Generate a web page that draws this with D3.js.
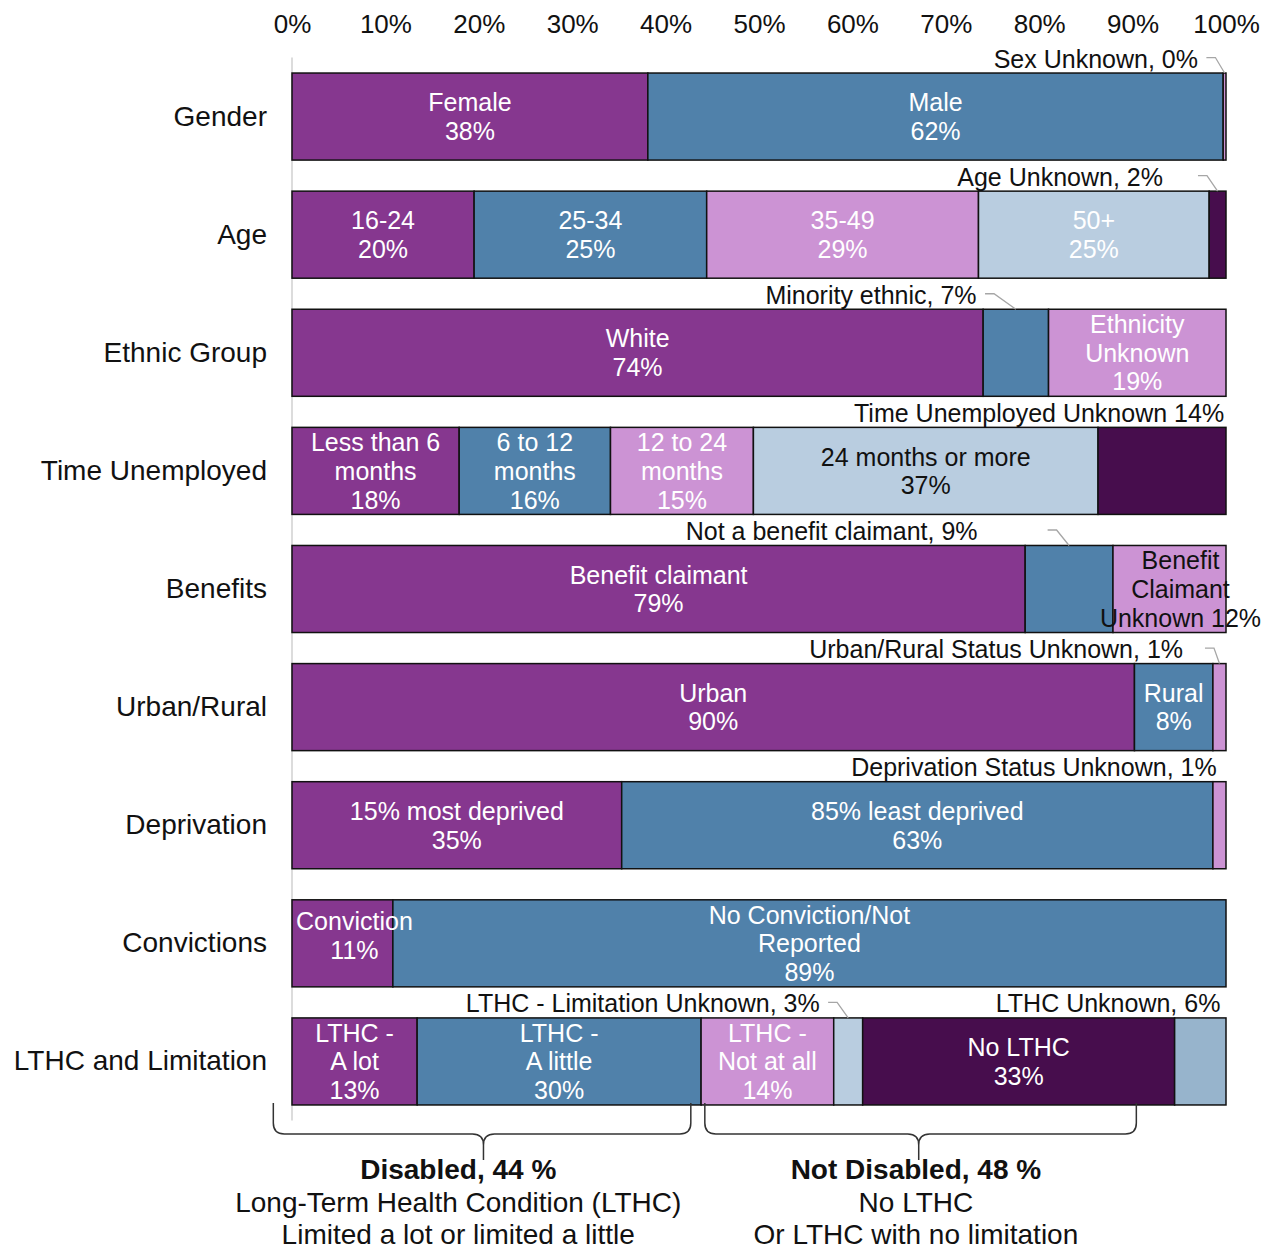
<!DOCTYPE html>
<html>
<head>
<meta charset="utf-8">
<script src="https://cdn.jsdelivr.net/npm/d3@7"></script>
<style>
  body { margin: 0; background: #fff; }
  svg { display: block; font-family: "Liberation Sans", Arial, sans-serif; }
</style>
</head>
<body>
<svg id="chart" width="1274" height="1250"></svg>
<script>
// Participant profile: share of each characteristic group (%)
const categories = ["Gender", "Age", "Ethnic Group", "Time Unemployed", "Benefits",
  "Urban/Rural", "Deprivation", "Convictions", "LTHC and Limitation"];

const genderNames = ["Female", "Male", "Sex Unknown"];
const genderValues = [38.1, 61.6, 0.3];
const ageNames = ["16-24", "25-34", "35-49", "50+", "Age Unknown"];
const ageValues = [19.5, 24.9, 29.1, 24.7, 1.8];
const ethnicNames = ["White", "Minority ethnic", "Ethnicity Unknown"];
const ethnicValues = [74.0, 7.0, 19.0];
const timeNames = ["Less than 6 months", "6 to 12 months", "12 to 24 months", "24 months or more", "Time Unemployed Unknown"];
const timeValues = [17.9, 16.2, 15.3, 36.9, 13.7];
const benefitNames = ["Benefit claimant", "Not a benefit claimant", "Benefit Claimant Unknown"];
const benefitValues = [78.5, 9.4, 12.1];
const urbanNames = ["Urban", "Rural", "Urban/Rural Status Unknown"];
const urbanValues = [90.2, 8.4, 1.4];
const deprivationNames = ["15% most deprived", "85% least deprived", "Deprivation Status Unknown"];
const deprivationValues = [35.3, 63.3, 1.4];
const convictionNames = ["Conviction", "No Conviction/Not Reported"];
const convictionValues = [10.8, 89.2];
const lthcNames = ["LTHC - A lot", "LTHC - A little", "LTHC - Not at all", "LTHC - Limitation Unknown", "No LTHC", "LTHC Unknown"];
const lthcValues = [13.4, 30.4, 14.2, 3.1, 33.4, 5.5];

const tickValues = [0, 10, 20, 30, 40, 50, 60, 70, 80, 90, 100];

// Disability grouping of the LTHC bar
const disabledParts = ["LTHC - A lot", "LTHC - A little"];
const notDisabledParts = ["LTHC - Not at all", "No LTHC"];

const groupNames = [genderNames, ageNames, ethnicNames, timeNames, benefitNames,
  urbanNames, deprivationNames, convictionNames, lthcNames];
const groupValues = [genderValues, ageValues, ethnicValues, timeValues, benefitValues,
  urbanValues, deprivationValues, convictionValues, lthcValues];

// ---- styling / layout ----
const palette = ["#86378f", "#5081aa", "#cc93d4", "#b9cde0", "#470d4d", "#97b4cc"];
const darkText = new Set(["24 months or more", "Benefit Claimant Unknown"]);
const wrapLines = {
  "Less than 6 months": ["Less than 6", "months", "{pct}"],
  "6 to 12 months": ["6 to 12", "months", "{pct}"],
  "12 to 24 months": ["12 to 24", "months", "{pct}"],
  "Ethnicity Unknown": ["Ethnicity", "Unknown", "{pct}"],
  "Benefit Claimant Unknown": ["Benefit", "Claimant", "Unknown {pct}"],
  "No Conviction/Not Reported": ["No Conviction/Not", "Reported", "{pct}"],
  "LTHC - A lot": ["LTHC -", "A lot", "{pct}"],
  "LTHC - A little": ["LTHC -", "A little", "{pct}"],
  "LTHC - Not at all": ["LTHC -", "Not at all", "{pct}"]
};
const labelShift = { "Conviction": [12, -8], "Benefit Claimant Unknown": [11, 0] };

// Labels placed above the bar (text end and leader start in % units)
const outsideLabels = [
  { name: "Sex Unknown", text: "{name}, {pct}", end: 97.0, leader: 97.9 },
  { name: "Age Unknown", text: "{name}, {pct}", end: 93.25, leader: 97.0 },
  { name: "Minority ethnic", text: "{name}, {pct}", end: 73.3, leader: 74.2 },
  { name: "Time Unemployed Unknown", text: "{name} {pct}", end: 99.8 },
  { name: "Not a benefit claimant", text: "{name}, {pct}", end: 73.4, leader: 80.9 },
  { name: "Urban/Rural Status Unknown", text: "{name}, {pct}", end: 95.4, leader: 97.75 },
  { name: "Deprivation Status Unknown", text: "{name}, {pct}", end: 99.0 },
  { name: "LTHC - Limitation Unknown", text: "{name}, {pct}", end: 56.5, leader: 57.4 },
  { name: "LTHC Unknown", text: "{name}, {pct}", end: 99.4 }
];

const fmt = v => Math.round(v) + "%";

// Flatten into stacked segments
const segments = [];
categories.forEach((cat, ci) => {
  let acc = 0;
  groupNames[ci].forEach((name, i) => {
    const v = groupValues[ci][i];
    segments.push({ cat, name, index: i, x0: acc, x1: acc + v, value: v });
    acc += v;
  });
});
const segByName = new Map(segments.map(s => [s.name, s]));

const svg = d3.select("#chart");
const x = d3.scaleLinear().domain([0, 100]).range([292, 1226]);
const y = d3.scaleBand().domain(categories).range([57.5, 1120.5])
  .paddingInner(0.263).paddingOuter(0.1315);

// vertical axis line
svg.append("line")
  .attr("x1", x(0)).attr("x2", x(0))
  .attr("y1", y.range()[0]).attr("y2", y.range()[1])
  .attr("stroke", "#d0d0d0").attr("stroke-width", 1.5);

// top percentage axis
const xAxis = svg.append("g")
  .attr("transform", "translate(0,33)")
  .call(d3.axisTop(x).tickValues(tickValues).tickFormat(d => d + "%").tickSize(0).tickPadding(0));
xAxis.select(".domain").remove();
xAxis.selectAll("text").attr("font-size", 26).attr("fill", "#111")
  .attr("font-family", "Liberation Sans, Arial, sans-serif");

// category axis
const yAxis = svg.append("g")
  .attr("transform", `translate(${x(0)},0)`)
  .call(d3.axisLeft(y).tickSize(0).tickPadding(25));
yAxis.select(".domain").remove();
yAxis.selectAll("text").attr("font-size", 28).attr("fill", "#111")
  .attr("font-family", "Liberation Sans, Arial, sans-serif");

// bars
svg.append("g").selectAll("rect")
  .data(segments)
  .join("rect")
  .attr("x", d => x(d.x0))
  .attr("y", d => y(d.cat))
  .attr("width", d => x(d.x1) - x(d.x0))
  .attr("height", y.bandwidth())
  .attr("fill", d => palette[d.index])
  .attr("stroke", "#111")
  .attr("stroke-width", 1.5);

// labels inside segments
const insideSegs = segments.filter(s => !outsideLabels.some(o => o.name === s.name));
const lineH = 28.7;
const inside = svg.append("g").attr("font-size", 25);
insideSegs.forEach(s => {
  const lines = (wrapLines[s.name] || [s.name, "{pct}"]).map(t => t.replace("{pct}", fmt(s.value)));
  const [sx, sy] = labelShift[s.name] || [0, 0];
  const cx = (x(s.x0) + x(s.x1)) / 2 + sx;
  const cy = y(s.cat) + y.bandwidth() / 2 + sy;
  const t = inside.append("text")
    .attr("text-anchor", "middle")
    .attr("fill", darkText.has(s.name) ? "#111" : "#fff");
  lines.forEach((ln, i) => {
    t.append("tspan")
      .attr("x", cx)
      .attr("y", cy + (i - (lines.length - 1) / 2) * lineH)
      .attr("dominant-baseline", "central")
      .text(ln);
  });
});

// labels above bars with leader lines
const outside = svg.append("g").attr("font-size", 25);
outsideLabels.forEach(o => {
  const s = segByName.get(o.name);
  const top = y(s.cat);
  const ty = top - 14.5;
  outside.append("text")
    .attr("x", x(o.end)).attr("y", ty)
    .attr("text-anchor", "end").attr("dominant-baseline", "central")
    .attr("fill", "#111")
    .text(o.text.replace("{name}", o.name).replace("{pct}", fmt(s.value)));
  if (o.leader !== undefined) {
    const lx = x(o.leader);
    const tx = (x(s.x0) + x(s.x1)) / 2;
    outside.append("path")
      .attr("d", `M${lx},${ty - 1}L${lx + 9},${ty - 1}L${tx},${top}`)
      .attr("fill", "none").attr("stroke", "#a6a6a6").attr("stroke-width", 1.3);
  }
});

// disability braces beneath the LTHC bar
const sumOf = names => names.reduce((a, n) => a + segByName.get(n).value, 0);
const braces = [
  { from: -2, to: 42.7, tip: 20.5, textAt: 17.8,
    lines: [`Disabled, ${Math.round(sumOf(disabledParts))} %`, "Long-Term Health Condition (LTHC)", "Limited a lot or limited a little"] },
  { from: 44.2, to: 90.4, tip: 67.1, textAt: 66.8,
    lines: [`Not Disabled, ${Math.round(sumOf(notDisabledParts))} %`, "No LTHC", "Or LTHC with no limitation"] }
];
const lastBottom = y(categories[categories.length - 1]) + y.bandwidth();
const bTop = lastBottom - 2, bMid = lastBottom + 29, bTip = lastBottom + 55, r = 11;
const braceG = svg.append("g");
braces.forEach(b => {
  const x1 = x(b.from), x2 = x(b.to), xm = x(b.tip);
  const d = `M${x1},${bTop}L${x1},${bMid - r}Q${x1},${bMid} ${x1 + r},${bMid}` +
    `L${xm - r},${bMid}Q${xm},${bMid} ${xm},${bMid + r}L${xm},${bTip}` +
    `M${xm},${bMid + r}Q${xm},${bMid} ${xm + r},${bMid}` +
    `L${x2 - r},${bMid}Q${x2},${bMid} ${x2},${bMid - r}L${x2},${bTop}`;
  braceG.append("path").attr("d", d).attr("fill", "none")
    .attr("stroke", "#333").attr("stroke-width", 1.5);
  b.lines.forEach((ln, i) => {
    braceG.append("text")
      .attr("x", x(b.textAt)).attr("y", lastBottom + 65 + i * 32.5)
      .attr("text-anchor", "middle").attr("dominant-baseline", "central")
      .attr("font-size", 28).attr("fill", "#111")
      .attr("font-weight", i === 0 ? "bold" : "normal")
      .text(ln);
  });
});
</script>
</body>
</html>
